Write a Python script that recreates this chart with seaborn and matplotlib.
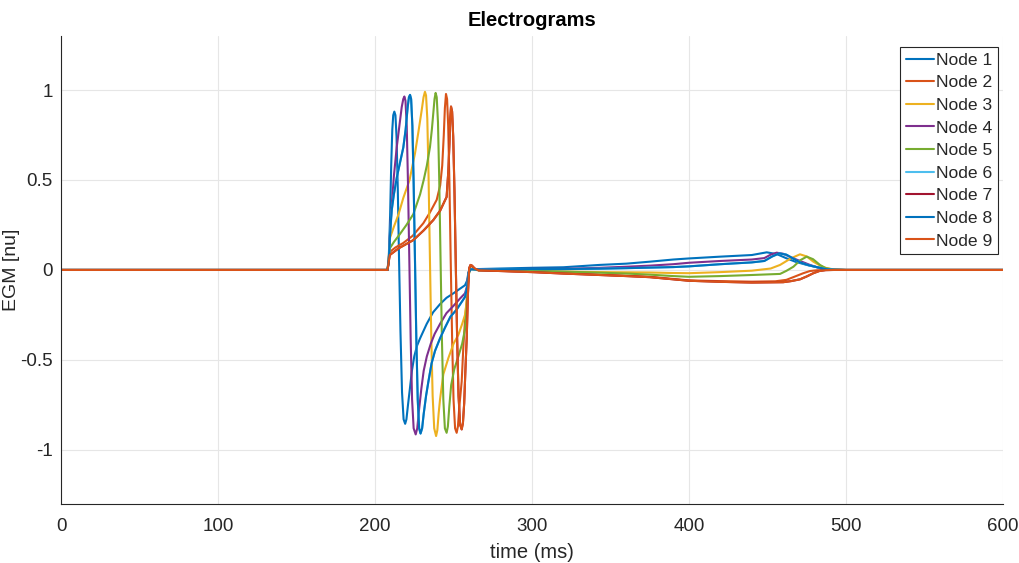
import matplotlib
matplotlib.use("Agg")
import matplotlib.pyplot as plt
import seaborn as sns
import pandas as pd

# ---------------- data ----------------
node_names = ["Node 1", "Node 2", "Node 3", "Node 4", "Node 5",
              "Node 6", "Node 7", "Node 8", "Node 9"]
node_colors = ["#0072BD", "#D95319", "#EDB120", "#7E2F8E", "#77AC30",
               "#4DBEEE", "#A2142F", "#0072BD", "#D95319"]

t_node1 = [0, 208, 208.8, 209.6, 210.3, 211.0, 211.6, 212.3, 213.0, 213.7, 214.5, 215.3,
           216.2, 217.2, 218.2, 219.2, 220.0, 221.0, 222.2, 223.5, 225.0, 226.8, 228.7,
           232.9, 237.0, 241.4, 245.5, 249.9, 254.0, 257.3, 258.6, 259.6, 260.8, 263, 266,
           280, 300, 320, 343, 360, 375, 390, 400, 420, 440, 449.5, 456, 462, 468, 475,
           481, 486, 492, 500, 600]
v_node1 = [0, 0, 0.08, 0.30, 0.58, 0.78, 0.86, 0.88, 0.86, 0.74, 0.45, 0.06,
           -0.34, -0.68, -0.83, -0.855, -0.83, -0.75, -0.66, -0.56, -0.48, -0.42, -0.38,
           -0.30, -0.235, -0.19, -0.155, -0.13, -0.105, -0.085, -0.06, -0.01, 0.005, 0.005, 0.005,
           0.008, 0.012, 0.015, 0.028, 0.035, 0.046, 0.058, 0.064, 0.074, 0.083, 0.098, 0.088,
           0.065, 0.045, 0.028, 0.016, 0.008, 0.002, 0, 0]

t_node4 = [0, 208, 208.8, 209.6, 210.6, 212.0, 213.8, 215.5, 217.0, 218.0, 218.7, 219.4,
           220.2, 221.0, 221.8, 222.7, 223.6, 224.6, 225.9, 226.9, 228.0, 229.5, 231.0,
           233.0, 235.5, 238.0, 241.4, 245.5, 249.9, 254.0, 257.3, 258.6, 259.6, 261, 266, 280,
           300, 320, 343, 360, 375, 390, 400, 420, 440, 448, 452, 455.8, 460, 465, 470.7,
           477, 483.4, 490, 500, 600]
v_node4 = [0, 0, 0.06, 0.22, 0.35, 0.52, 0.68, 0.80, 0.905, 0.95, 0.964, 0.94,
           0.80, 0.48, 0.08, -0.38, -0.72, -0.88, -0.914, -0.88, -0.78, -0.66, -0.56,
           -0.48, -0.41, -0.355, -0.30, -0.24, -0.20, -0.16, -0.13, -0.09, -0.015, 0.005, 0.003, 0.004,
           0.006, 0.006, 0.012, 0.018, 0.024, 0.032, 0.040, 0.050, 0.058, 0.066, 0.085, 0.096,
           0.090, 0.070, 0.050, 0.028, 0.010, 0.002, 0, 0]

t_node8 = [0, 208, 208.8, 209.6, 210.6, 212.0, 214.0, 216.0, 218.0, 219.5, 220.8, 221.6,
           222.3, 223.0, 223.8, 224.6, 225.4, 226.3, 227.2, 228.1, 229.0, 230.0, 231.0,
           232.5, 234.0, 236.0, 238.2, 241.4, 244.6, 248.0, 252.0, 257.3, 258.6, 259.6,
           261, 266, 280, 300, 320, 343, 360, 375, 390, 400, 420, 440, 448, 453, 457.5,
           462, 466, 470.7, 476, 481.3, 487, 493, 500, 600]
v_node8 = [0, 0, 0.06, 0.20, 0.33, 0.42, 0.52, 0.60, 0.68, 0.78, 0.905, 0.96,
           0.973, 0.95, 0.80, 0.48, 0.08, -0.38, -0.72, -0.88, -0.909, -0.88, -0.80,
           -0.70, -0.62, -0.52, -0.45, -0.38, -0.32, -0.26, -0.22, -0.15, -0.10, -0.015,
           0.004, 0.002, 0.004, 0.005, 0.005, 0.007, 0.010, 0.013, 0.016, 0.020, 0.032, 0.042,
           0.050, 0.075, 0.092, 0.085, 0.065, 0.042, 0.027, 0.016, 0.005, 0.001, 0, 0]

t_node3 = [0, 208, 208.8, 209.6, 212.0, 215.0, 218.0, 222.0, 225.5, 227.5, 229.7, 230.9,
           231.8, 232.5, 233.3, 234.1, 234.9, 235.8, 236.7, 237.7, 238.9, 239.7, 240.5,
           241.4, 243.5, 246.7, 250.0, 253.1, 255.5, 257.3, 258.6, 259.6, 261, 266, 280,
           300, 320, 343, 360, 375, 390, 400, 420, 440, 452, 458, 465, 470.7, 475, 479.2,
           484, 487.7, 493, 500, 600]
v_node3 = [0, 0, 0.08, 0.18, 0.24, 0.31, 0.40, 0.50, 0.65, 0.76, 0.886, 0.96,
           0.99, 0.97, 0.84, 0.52, 0.10, -0.36, -0.70, -0.88, -0.923, -0.89, -0.80,
           -0.72, -0.58, -0.49, -0.41, -0.36, -0.30, -0.25, -0.16, -0.02, 0.008, 0.0, 0.0,
           -0.003, -0.009, -0.012, -0.013, -0.014, -0.017, -0.018, -0.012, -0.004, 0.008,
           0.028, 0.065, 0.087, 0.075, 0.046, 0.022, 0.010, 0.002, 0, 0]

t_node5 = [0, 208, 208.8, 209.4, 212.0, 215.9, 220.0, 224.4, 228.7, 231.0, 233.0, 235.0,
           236.2, 237.1, 237.9, 238.6, 239.3, 240.1, 240.9, 241.7, 242.6, 243.5, 244.5,
           245.6, 246.4, 247.3, 248.5, 250.5, 253.1, 255.5, 257.3, 258.4, 259.4, 260.5,
           266, 280, 300, 320, 343, 360, 375, 390, 400, 420, 440, 458, 462, 466.5, 471,
           475, 479, 483.4, 487, 492, 500, 600]
v_node5 = [0, 0, 0.06, 0.12, 0.155, 0.20, 0.25, 0.31, 0.42, 0.50, 0.58, 0.683,
           0.78, 0.87, 0.95, 0.984, 0.96, 0.82, 0.50, 0.08, -0.38, -0.72, -0.88,
           -0.905, -0.87, -0.76, -0.64, -0.55, -0.48, -0.41, -0.33, -0.22, -0.04, 0.006,
           -0.002, -0.002, -0.004, -0.009, -0.015, -0.020, -0.026, -0.034, -0.038, -0.034,
           -0.028, -0.022, -0.005, 0.018, 0.055, 0.074, 0.060, 0.028, 0.010, 0.002, 0, 0]

t_node2 = [0, 208, 208.8, 209.4, 213.0, 218.0, 224.0, 230.8, 235.0, 239.3, 241.5, 242.8,
           243.8, 244.5, 245.2, 245.9, 246.6, 247.4, 248.2, 249.1, 250.0, 251.0, 252.0,
           252.8, 253.7, 255.2, 256.3, 257.4, 258.4, 259.3, 260.5, 261.5, 263, 266, 280,
           300, 320, 343, 360, 375, 390, 400, 420, 440, 455, 462, 467, 472.8, 477, 481.3,
           487, 500, 600]
v_node2 = [0, 0, 0.06, 0.10, 0.125, 0.15, 0.19, 0.26, 0.32, 0.39, 0.47, 0.58,
           0.75, 0.90, 0.978, 0.95, 0.80, 0.48, 0.06, -0.38, -0.72, -0.88, -0.905,
           -0.87, -0.76, -0.62, -0.42, -0.27, -0.17, -0.03, 0.02, 0.022, 0.008, -0.002, -0.005,
           -0.010, -0.018, -0.026, -0.032, -0.038, -0.050, -0.058, -0.062, -0.065, -0.063,
           -0.055, -0.038, -0.018, -0.006, -0.002, 0, 0, 0]

t_node9 = [0, 208, 208.8, 209.4, 215.0, 224.4, 231.0, 237.1, 241.5, 245.6, 246.7, 247.4,
           247.9, 248.4, 249.1, 249.8, 250.6, 251.4, 252.3, 253.2, 254.2, 255.2, 256.0,
           256.8, 257.6, 258.4, 259.2, 260.0, 260.8, 261.8, 263.5, 266, 280, 300, 320, 343,
           360, 375, 390, 400, 420, 440, 460, 465, 470.7, 475, 479.2, 483, 487, 492, 500, 600]
v_node9 = [0, 0, 0.05, 0.083, 0.12, 0.166, 0.22, 0.277, 0.33, 0.406, 0.55, 0.70,
           0.84, 0.908, 0.88, 0.74, 0.44, 0.05, -0.38, -0.70, -0.86, -0.886, -0.85,
           -0.74, -0.55, -0.38, -0.13, 0.01, 0.028, 0.024, 0.008, -0.002, -0.006, -0.012,
           -0.020, -0.028, -0.034, -0.040, -0.052, -0.060, -0.066, -0.070, -0.068, -0.062,
           -0.052, -0.036, -0.018, -0.006, -0.001, 0, 0, 0]

# Nodes 6 and 7 lie exactly underneath Nodes 8 and 9 in the reference
t_node6, v_node6 = t_node8, v_node8
t_node7, v_node7 = t_node9, v_node9

x_ticks = [0, 100, 200, 300, 400, 500, 600]
y_ticks = [-1, -0.5, 0, 0.5, 1]
y_tick_labels = ["-1", "-0.5", "0", "0.5", "1"]

# ---------------- build long table ----------------
series = [(t_node1, v_node1), (t_node2, v_node2), (t_node3, v_node3),
          (t_node4, v_node4), (t_node5, v_node5), (t_node6, v_node6),
          (t_node7, v_node7), (t_node8, v_node8), (t_node9, v_node9)]
frames = []
for name, (tt, vv) in zip(node_names, series):
    frames.append(pd.DataFrame({"time": tt, "egm": vv, "node": name}))
df = pd.concat(frames, ignore_index=True)

# ---------------- plot ----------------
sns.set_style("white")
plt.rcParams["font.family"] = ["Liberation Sans", "DejaVu Sans"]

fig = plt.figure(figsize=(10.19, 5.63), dpi=100)
ax = fig.add_axes([0.0599, 0.105, 0.9244, 0.831])

sns.lineplot(data=df, x="time", y="egm", hue="node", hue_order=node_names,
             palette=dict(zip(node_names, node_colors)), estimator=None,
             sort=False, linewidth=1.5, legend=False, ax=ax)

ax.set_xlim(0, 600)
ax.set_ylim(-1.3, 1.3)
ax.set_xticks(x_ticks)
ax.set_yticks(y_ticks)
ax.set_yticklabels(y_tick_labels)
ax.grid(True, color="#e6e6e6", linewidth=0.8)
ax.set_axisbelow(True)

for side in ["top", "right"]:
    ax.spines[side].set_visible(False)
for side in ["left", "bottom"]:
    ax.spines[side].set_color("#262626")
    ax.spines[side].set_linewidth(0.8)
ax.tick_params(axis="x", direction="in", length=5, width=0.8, colors="#262626",
               labelsize=13.5, pad=10)
ax.tick_params(axis="y", direction="in", length=5, width=0.8, colors="#262626",
               labelsize=13.5, pad=6)

ax.set_xlabel("time (ms)", fontsize=14.5, color="#262626", labelpad=6)
ax.set_ylabel("EGM [nu]", fontsize=14, color="#262626")
ax.yaxis.set_label_coords(-0.0435, 0.5)
ax.set_title("Electrograms", fontsize=14.5, fontweight="bold", color="black", pad=7)

leg = ax.legend(ax.lines[:9], node_names, loc="upper right",
                bbox_to_anchor=(0.9946, 0.976), fontsize=12.6, frameon=True,
                fancybox=False, handlelength=1.6, handletextpad=0.15,
                labelspacing=0.42, borderpad=0.3, borderaxespad=0.0)
leg.get_frame().set_edgecolor("#262626")
leg.get_frame().set_linewidth(0.8)
leg.get_frame().set_facecolor("white")
leg.get_frame().set_alpha(1.0)

fig.savefig("out.png", dpi=100)
